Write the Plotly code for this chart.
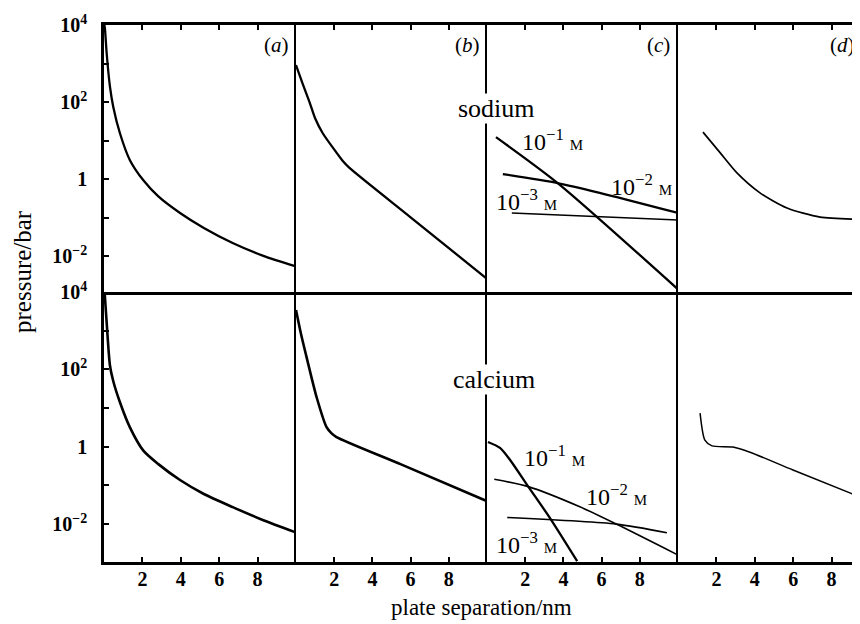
import plotly.graph_objects as go
from plotly.subplots import make_subplots

# ---------------- data (plate separation in nm, pressure in bar) ----------------
# (a) top row (sodium)
a_na_x = [0.02, 0.05, 0.14, 0.31, 0.48, 0.83, 1.35, 2.05, 2.83, 3.96, 5.2, 6.7, 8.3, 9.95]
a_na_p = [1e4, 7900, 1820, 251, 76, 15.5, 3.1, 0.93, 0.355, 0.132, 0.054, 0.022, 0.0102, 0.0055]
# (a) bottom row (calcium)
a_ca_x = [0.03, 0.14, 0.31, 0.48, 0.83, 1.35, 2.05, 2.83, 3.96, 5.2, 6.7, 8.3, 9.95]
a_ca_p = [1e4, 1585, 126, 50, 14.1, 3.16, 0.79, 0.355, 0.138, 0.06, 0.0275, 0.0126, 0.0062]
# (b)
b_na_x = [0.0, 0.35, 0.73, 1.0, 1.4, 2.13, 2.45, 2.8, 6.0, 9.95]
b_na_p = [910, 295, 93, 38, 15.5, 4.8, 2.95, 1.95, 0.102, 0.0027]
b_ca_x = [0.0, 0.25, 0.55, 1.08, 1.6, 1.85, 2.12, 5.5, 9.95]
b_ca_p = [3400, 870, 210, 19, 3.2, 2.25, 1.78, 0.35, 0.04]
# (c) sodium, three concentrations
c_na1_x = [0.47, 3.7, 10.0]
c_na1_p = [12.3, 0.79, 0.00138]
c_na2_x = [0.83, 3.7, 5.9, 10.0]
c_na2_p = [1.35, 0.79, 0.44, 0.132]
c_na3_x = [1.3, 10.0]
c_na3_p = [0.132, 0.087]
# (c) calcium, three concentrations
c_ca1_x = [0.05, 0.68, 1.2, 2.16, 3.29, 4.72]
c_ca1_p = [1.32, 0.93, 0.46, 0.093, 0.0145, 0.0011]
c_ca2_x = [0.38, 2.16, 4.86, 6.77, 9.98]
c_ca2_p = [0.144, 0.093, 0.028, 0.01, 0.0016]
c_ca3_x = [1.06, 6.77, 9.42]
c_ca3_p = [0.0148, 0.01, 0.006]
# (d)
d_na_x = [1.3, 2.2, 3.07, 4.27, 5.68, 7.4, 9.5]
d_na_p = [16.6, 4.8, 1.45, 0.44, 0.178, 0.103, 0.091]
d_ca_x = [1.15, 1.4, 1.77, 2.86, 3.75, 5.99, 9.5]
d_ca_p = [7.4, 1.48, 1.05, 0.98, 0.72, 0.25, 0.05]

ytick_vals = [1e-3, 1e-2, 1e-1, 1, 10, 100, 1e3, 1e4]
ytick_text = ["", "10<sup>−2</sup>", "", "1", "", "10<sup>2</sup>", "", "10<sup>4</sup>"]
xtick_vals = [2, 4, 6, 8]
xtick_text = ["2", "4", "6", "8"]
panel_labels = ["a", "b", "c", "d"]
conc_labels = ["10<sup>−1</sup>", "10<sup>−2</sup>", "10<sup>−3</sup>"]

SERIF = "Liberation Serif"

fig = make_subplots(rows=2, cols=4, horizontal_spacing=0, vertical_spacing=0)

def add(x, p, row, col, w=2.3, smooth=0.7):
    fig.add_trace(go.Scatter(x=x, y=p, mode="lines",
                             line=dict(color="black", width=w, shape="spline", smoothing=smooth),
                             showlegend=False, hoverinfo="skip"), row=row, col=col)

add(a_na_x, a_na_p, 1, 1)
add(a_ca_x, a_ca_p, 2, 1, 2.6)
add(b_na_x, b_na_p, 1, 2)
add(b_ca_x, b_ca_p, 2, 2, 2.6)
add(c_na1_x, c_na1_p, 1, 3)
add(c_na2_x, c_na2_p, 1, 3)
add(c_na3_x, c_na3_p, 1, 3, 1.6)
add(c_ca1_x, c_ca1_p, 2, 3)
add(c_ca2_x, c_ca2_p, 2, 3, 1.6)
add(c_ca3_x, c_ca3_p, 2, 3, 1.6)
add(d_na_x, d_na_p, 1, 4, 1.7)
add(d_ca_x, d_ca_p, 2, 4, 1.5)

# geometry: the page body adds an 8 px offset, so the figure is 852x616
PW = 756.0
PH = 537.0
xdoms = [[0, 192 / PW], [192 / PW, 383 / PW], [383 / PW, 574 / PW], [574 / PW, 1.0]]
xranges = [[0, 10], [0, 10], [0, 10], [0, 9.48]]
ysplit = 270 / PH
ydoms = {1: [ysplit, 1.0], 2: [0.0, ysplit]}
yranges = {1: [-2.93, 4], 2: [-2.98, 4]}

tickfont = dict(family=SERIF, size=20, color="black", weight="bold")

for row in (1, 2):
    for col in (1, 2, 3, 4):
        fig.update_xaxes(domain=xdoms[col - 1], range=xranges[col - 1],
                         showgrid=False, zeroline=False, automargin=False,
                         showline=True, mirror=(row == 1), linecolor="black", linewidth=2.5,
                         tickvals=xtick_vals, ticktext=xtick_text,
                         ticks="inside", ticklen=5, tickwidth=2, tickcolor="black",
                         side="top" if row == 1 else "bottom",
                         showticklabels=(row == 2), tickfont=tickfont,
                         ticklabelstandoff=-3,
                         row=row, col=col)
        yk = dict(domain=ydoms[row], type="log", range=yranges[row],
                  showgrid=False, zeroline=False, automargin=False,
                  showline=True, mirror=False, linecolor="black",
                  linewidth=2.5 if col == 1 else 2)
        if col == 1:
            yk.update(tickvals=ytick_vals, ticktext=ytick_text,
                      ticks="inside", ticklen=5, tickwidth=2, tickcolor="black",
                      showticklabels=True, tickfont=tickfont, ticklabelstandoff=10)
        else:
            yk.update(ticks="", showticklabels=False)
        fig.update_yaxes(row=row, col=col, **yk)

ann = []
# panel labels
for i, lab in enumerate(panel_labels):
    xa = "x" if i == 0 else "x%d" % (i + 1)
    ya = "y" if i == 0 else "y%d" % (i + 1)
    ann.append(dict(x=9.0 if i < 3 else 8.55, y=3.48, xref=xa, yref=ya,
                    text="(<i>%s</i>)" % lab, showarrow=False,
                    font=dict(family=SERIF, size=21, color="black")))

name_font = dict(family=SERIF, size=26, color="black")
lab_font = dict(family=SERIF, size=24, color="black")
def conc_text(i):
    return conc_labels[i] + " <span style='font-size:15px'>M</span>"

# sodium (top row, panel c -> x3/y3)
ann.append(dict(x=0.52, y=1.84, xref="x3", yref="y3", text="sodium", showarrow=False,
                font=name_font, bgcolor="white", borderpad=0))
ann.append(dict(x=3.45, y=1.01, xref="x3", yref="y3", text=conc_text(0), showarrow=False, font=lab_font))
ann.append(dict(x=8.1, y=-0.16, xref="x3", yref="y3", text=conc_text(1), showarrow=False, font=lab_font))
ann.append(dict(x=2.09, y=-0.55, xref="x3", yref="y3", text=conc_text(2), showarrow=False, font=lab_font))
# calcium (bottom row, panel c -> x7/y7)
ann.append(dict(x=0.36, y=1.75, xref="x7", yref="y7", text="calcium", showarrow=False,
                font=name_font, bgcolor="white", borderpad=0))
ann.append(dict(x=3.55, y=-0.24, xref="x7", yref="y7", text=conc_text(0), showarrow=False, font=lab_font))
ann.append(dict(x=6.79, y=-1.25, xref="x7", yref="y7", text=conc_text(1), showarrow=False, font=lab_font))
ann.append(dict(x=2.09, y=-2.49, xref="x7", yref="y7", text=conc_text(2), showarrow=False, font=lab_font))

# axis titles
ann.append(dict(x=(22 - 104) / PW, y=(562 - 272) / PH, xref="paper", yref="paper",
                xanchor="center", yanchor="middle",
                text="pressure/bar", textangle=-90, showarrow=False,
                font=dict(family=SERIF, size=25, color="black")))
ann.append(dict(x=(481 - 104) / PW, y=(562 - 607) / PH, xref="paper", yref="paper",
                xanchor="center", yanchor="middle",
                text="plate separation/nm", showarrow=False,
                font=dict(family=SERIF, size=23, color="black")))

fig.update_layout(width=852, height=616,
                  margin=dict(l=96, r=0, t=17, b=62, autoexpand=False),
                  paper_bgcolor="white", plot_bgcolor="white",
                  annotations=ann, showlegend=False)

fig.write_html("out.html")
